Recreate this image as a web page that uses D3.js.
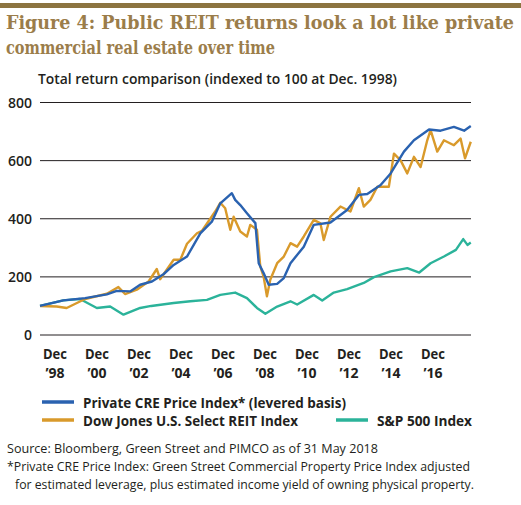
<!DOCTYPE html>
<html><head><meta charset="utf-8">
<script src="https://cdn.jsdelivr.net/npm/d3@7"></script>
<style>body{margin:0;background:#fff}</style></head>
<body><svg id="c" width="521" height="505"></svg>
<script>
const cre=[[1998.92,100],[1999.97,119],[2000.95,127],[2001.93,140],[2002.38,152],[2002.98,150],[2003.43,173],[2003.96,184],[2004.48,209],[2004.94,241],[2005.54,270],[2006.14,350],[2006.66,390],[2007.04,453],[2007.56,488],[2007.71,465],[2007.94,447],[2008.24,419],[2008.62,385],[2008.77,247],[2008.99,213],[2009.22,173],[2009.60,176],[2009.90,196],[2010.20,247],[2010.80,304],[2011.25,379],[2012.00,387],[2012.75,430],[2013.28,482],[2013.66,485],[2014.26,516],[2014.71,556],[2015.31,631],[2015.76,670],[2016.44,707],[2016.96,703],[2017.56,716],[2018.02,703],[2018.32,719]];
const reit=[[1998.92,100],[1999.67,98],[2000.12,93],[2000.95,124],[2001.93,142],[2002.45,165],[2002.75,141],[2003.28,156],[2003.81,184],[2004.18,227],[2004.33,192],[2004.94,259],[2005.24,259],[2005.54,314],[2005.99,350],[2006.21,358],[2006.81,425],[2007.04,455],[2007.26,436],[2007.49,362],[2007.64,407],[2007.94,356],[2008.24,339],[2008.39,379],[2008.69,362],[2008.84,236],[2008.99,201],[2009.14,133],[2009.29,190],[2009.60,247],[2009.90,270],[2010.20,316],[2010.50,304],[2010.80,339],[2011.25,396],[2011.55,384],[2011.70,327],[2012.00,407],[2012.45,442],[2012.90,425],[2013.28,505],[2013.50,442],[2013.80,465],[2014.11,510],[2014.63,510],[2014.86,624],[2015.16,601],[2015.46,556],[2015.76,613],[2016.06,578],[2016.36,670],[2016.51,705],[2016.81,631],[2017.11,670],[2017.56,653],[2017.86,676],[2018.06,608],[2018.32,665]];
const spx=[[1998.92,100],[1999.97,119],[2000.72,124],[2001.48,93],[2002.08,98],[2002.68,70],[2003.43,93],[2003.93,100],[2004.94,110],[2005.69,116],[2006.44,121],[2007.04,138],[2007.71,146],[2008.24,127],[2008.69,93],[2009.07,73],[2009.60,98],[2010.20,116],[2010.50,105],[2011.25,138],[2011.63,119],[2012.15,146],[2012.75,158],[2013.50,179],[2013.96,199],[2014.71,219],[2015.46,230],[2016.00,215],[2016.51,247],[2017.11,270],[2017.65,293],[2017.98,330],[2018.17,310],[2018.32,318]];
const yTicks=[0,200,400,600,800];
const xLabels=["’98","’00","’02","’04","’06","’08","’10","’12","’14","’16"];
const svg=d3.select("#c");
const F="'Open Sans',sans-serif";
function fit(sel,w){return sel.attr("textLength",w).attr("lengthAdjust","spacingAndGlyphs");}
const x=d3.scaleLinear().domain([1998.92,2018.33]).range([40,471]);
const y=d3.scaleLinear().domain([0,800]).range([335,102.5]);
svg.append("rect").attr("x",0).attr("y",3).attr("width",521).attr("height",5).attr("fill","#8c7440");
fit(svg.append("text").attr("x",6).attr("y",29).attr("font-family","'DejaVu Serif',serif").attr("font-weight","bold").attr("font-size",18).attr("fill","#9b7d4a").text("Figure 4: Public REIT returns look a lot like private"),508);
fit(svg.append("text").attr("x",6).attr("y",54).attr("font-family","'DejaVu Serif',serif").attr("font-weight","bold").attr("font-size",18).attr("fill","#9b7d4a").text("commercial real estate over time"),269);
fit(svg.append("text").attr("x",38).attr("y",84).attr("font-family",F).attr("font-weight",600).attr("font-size",15).attr("fill","#231f20").text("Total return comparison (indexed to 100 at Dec. 1998)"),359);
const g=svg.append("g");
g.selectAll("line.g").data(yTicks).join("line").attr("x1",40).attr("x2",471).attr("y1",d=>y(d)).attr("y2",d=>y(d)).attr("stroke","#231f20").attr("stroke-width",1);
g.selectAll("text.y").data(yTicks).join("text").attr("x",32).attr("y",d=>y(d)+5).attr("text-anchor","end").attr("font-family",F).attr("font-weight",600).attr("font-size",14).attr("fill","#231f20").text(d=>d);
const xl=d3.scaleLinear().domain([0,9]).range([55,433]);
xLabels.forEach((t,i)=>{
 const tx=svg.append("text").attr("text-anchor","middle").attr("font-family",F).attr("font-weight","bold").attr("font-size",14).attr("fill","#231f20");
 tx.append("tspan").attr("x",xl(i)).attr("y",359).attr("textLength",24).attr("lengthAdjust","spacingAndGlyphs").text("Dec");
 tx.append("tspan").attr("x",xl(i)).attr("y",378).text(t);
});
const line=d3.line().x(d=>x(d[0])).y(d=>y(d[1]));
[[spx,"#2bb39a"],[reit,"#d99a2b"],[cre,"#2a62b0"]].forEach(([d,c])=>svg.append("path").datum(d).attr("d",line).attr("fill","none").attr("stroke",c).attr("stroke-width",2.4).attr("stroke-linejoin","round"));
const leg=[["Private CRE Price Index* (levered basis)","#2a62b0",42,402,263],["Dow Jones U.S. Select REIT Index","#d99a2b",42,420,215],["S&P 500 Index","#2bb39a",336,420,95]];
leg.forEach(([t,c,lx,ly,w])=>{
 svg.append("line").attr("x1",lx).attr("x2",lx+32).attr("y1",ly).attr("y2",ly).attr("stroke",c).attr("stroke-width",3.5);
 fit(svg.append("text").attr("x",lx+41).attr("y",ly+6).attr("font-family",F).attr("font-weight","bold").attr("font-size",14.5).attr("fill","#231f20").text(t),w);
});
[["Source: Bloomberg, Green Street and PIMCO as of 31 May 2018",7,453,371],["*Private CRE Price Index: Green Street Commercial Property Price Index adjusted",7,471,463],["for estimated leverage, plus estimated income yield of owning physical property.",15,489,459]].forEach(([t,tx,ty,w])=>
 fit(svg.append("text").attr("x",tx).attr("y",ty).attr("font-family",F).attr("font-size",13.5).attr("fill","#231f20").text(t),w));
</script></body></html>
